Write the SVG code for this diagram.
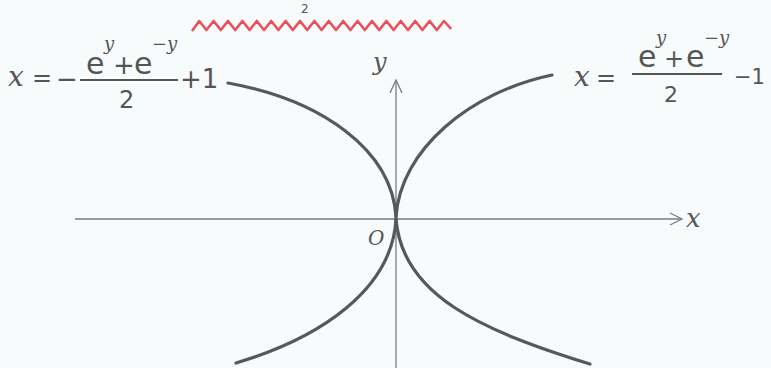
<svg xmlns="http://www.w3.org/2000/svg" width="771" height="368" viewBox="0 0 771 368">
<style>
.ax{stroke:#7a7a80;stroke-width:1.3;fill:none}
.cv{stroke:#58585c;stroke-width:3.2;fill:none;stroke-linecap:round}
.t{font-family:"DejaVu Serif",serif;font-style:italic;fill:#555}
.n{font-family:"DejaVu Sans",sans-serif;fill:#555}
.fl{stroke:#555;stroke-width:2}
</style>
<rect width="771" height="368" fill="#f8fbfb"/>
<text class="n" x="301" y="13" font-size="12">2</text>
<path d="M192,31 l7.2,-10 7.2,9 7.2,-9 7.2,9 7.2,-9 7.2,9 7.2,-9 7.2,9 7.2,-9 7.2,9 7.2,-9 7.2,9 7.2,-9 7.2,9 7.2,-9 7.2,9 7.2,-9 7.2,9 7.2,-9 7.2,9 7.2,-9 7.2,9 7.2,-9 7.2,9 7.2,-9 7.2,9 7.2,-9 7.2,9 7.2,-9 7.2,9 7.2,-9 7.2,9 7.2,-9 7.2,9 7.2,-9 7.2,8" fill="none" stroke="#e8505c" stroke-width="2.6" stroke-linejoin="round"/>
<g id="axes" class="ax">
<path d="M75,219 H682"/>
<path d="M670,213 L682,219 L670,225"/>
<path d="M396,368 V80"/>
<path d="M390,93 L396,80 L402,93"/>
</g>
<g id="labels">
<text class="t" x="686" y="227" font-size="26">x</text>
<text class="t" x="373" y="70" font-size="24">y</text>
<text class="t" x="368" y="245" font-size="20">O</text>
</g>
<g id="curves">
<path class="cv" d="M396,217 C400,150 470,92 552,75"/>
<path class="cv" d="M396,217 C392,150 322,100 228,83"/>
<path class="cv" d="M396,219 C392,290 320,338 236,363"/>
<path class="cv" d="M396,219 C402,295 480,330 590,364"/>
</g>
<g id="formula-left">
<text class="t" x="8" y="86" font-size="28">x</text>
<text class="n" x="32" y="86" font-size="24">=</text>
<text class="n" x="56" y="88" font-size="26">−</text>
<text class="n" x="86" y="74" font-size="30">e</text>
<text class="t" x="104" y="50" font-size="18">y</text>
<text class="n" x="113" y="74" font-size="26">+</text>
<text class="n" x="134" y="74" font-size="30">e</text>
<text class="t" x="152" y="50" font-size="18">−y</text>
<line class="fl" x1="80" y1="80" x2="178" y2="80"/>
<text class="n" x="119" y="108" font-size="24">2</text>
<text class="n" x="180" y="88" font-size="26">+1</text>
</g>
<g id="formula-right">
<text class="t" x="574" y="86" font-size="28">x</text>
<text class="n" x="596" y="86" font-size="24">=</text>
<text class="n" x="638" y="67" font-size="30">e</text>
<text class="t" x="656" y="44" font-size="18">y</text>
<text class="n" x="664" y="67" font-size="24">+</text>
<text class="n" x="686" y="67" font-size="30">e</text>
<text class="t" x="704" y="44" font-size="18">−y</text>
<line class="fl" x1="632" y1="74" x2="722" y2="74"/>
<text class="n" x="664" y="102" font-size="22">2</text>
<text class="n" x="734" y="84" font-size="21">−1</text>
</g>
</svg>
